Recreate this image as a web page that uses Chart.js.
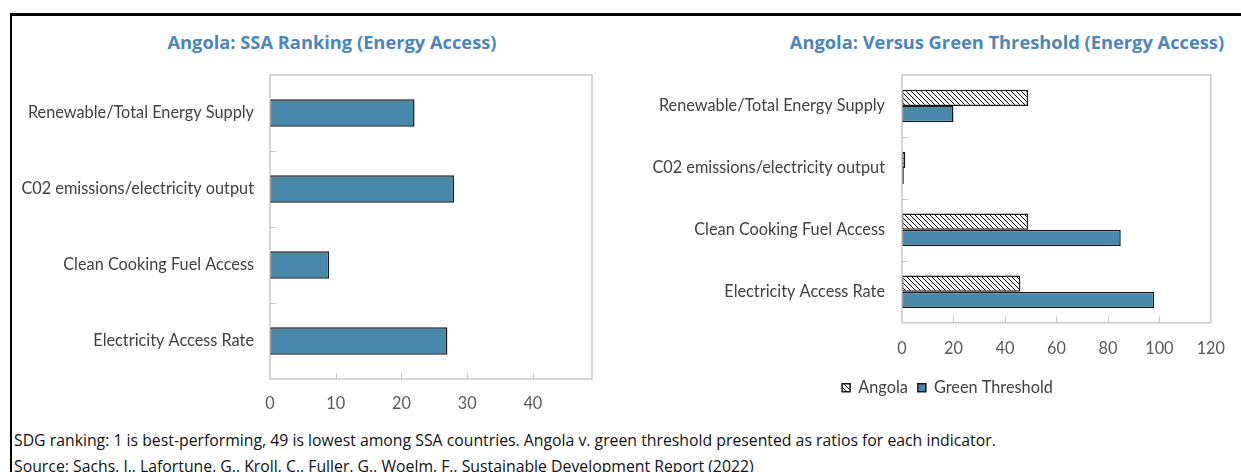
<!DOCTYPE html>
<html lang="en">

<head>
  <meta charset="utf-8" />
  <title>Angola Energy Access</title>
  <script src="https://cdn.jsdelivr.net/npm/chart.js@4.4.1/dist/chart.umd.min.js"></script>
  <style>
    body { margin: 0; width: 1241px; height: 472px; overflow: hidden; background: #fff; position: relative; }
    .frame { position: absolute; left: 10px; top: 13px; width: 1300px; height: 500px; border-left: 2px solid #000; border-top: 3px solid #000; }
    .title { position: absolute; font: bold 18.3px "Open Sans", sans-serif; line-height: 22px; color: #4a86b8; white-space: nowrap; transform: translateX(-50%); }
    .note { position: absolute; left: 14px; font: 15.8px "Open Sans", sans-serif; line-height: 20px; color: #111; white-space: nowrap; }
    canvas { position: absolute; top: 0; }
  </style>
</head>

<body>
  <div class="frame"></div>
  <div class="title" style="left:332px; top:31px;">Angola: SSA Ranking (Energy Access)</div>
  <div class="title" style="left:1007px; top:31px;">Angola: Versus Green Threshold (Energy Access)</div>

  <canvas id="rank" width="620" height="412" style="left:0px;"></canvas>
  <canvas id="green" width="621" height="406" style="left:620px;"></canvas>

  <div class="note" style="top:430px;">SDG ranking: 1 is best-performing, 49 is lowest among SSA countries. Angola v. green threshold presented as ratios for each indicator.</div>
  <div class="note" style="top:456px;">Source: Sachs, J., Lafortune, G., Kroll, C., Fuller, G., Woelm, F., Sustainable Development Report (2022)</div>

  <script>
    // indicators, top to bottom
    const indicators = [
      'Renewable/Total Energy Supply',
      'C02 emissions/electricity output',
      'Clean Cooking Fuel Access',
      'Electricity Access Rate'
    ];
    // SSA ranking (1 best .. 49 worst)
    const ssaRank = [22, 28, 9, 27];
    const rankTicks = [0, 10, 20, 30, 40];

    // ratios vs green threshold
    const angolaRatio = [49, 1.3, 49, 46];
    const greenThreshold = [20, 0.7, 85, 98];
    const greenTicks = [0, 20, 40, 60, 80, 100, 120];

    const barBlue = '#4889ab';
    const barEdge = '#1a1a1a';
    const labelFont = { family: 'Lato', size: 16.3 };

    // diagonal hatch for the Angola bars
    function makeHatch() {
      const c = document.createElement('canvas');
      c.width = 5; c.height = 5;
      const g = c.getContext('2d');
      g.fillStyle = '#fff';
      g.fillRect(0, 0, 5, 5);
      g.strokeStyle = '#000';
      g.lineWidth = 1;
      g.beginPath();
      g.moveTo(-1, -1); g.lineTo(6, 6);
      g.moveTo(-1, 4); g.lineTo(1, 6);
      g.moveTo(4, -1); g.lineTo(6, 1);
      g.stroke();
      return g.createPattern(c, 'repeat');
    }

    // grey box round the plot plus the small inside tick marks
    const frame = {
      id: 'frame',
      afterDatasetsDraw(chart) {
        const { ctx, chartArea: a, scales } = chart;
        ctx.save();
        ctx.strokeStyle = '#c8c8c8';
        ctx.lineWidth = 1.5;
        ctx.strokeRect(a.left, a.top, a.right - a.left, a.bottom - a.top);
        ctx.lineWidth = 1;
        ctx.beginPath();
        const y = scales.y;
        for (let i = 1; i < chart.data.labels.length; i++) {
          const py = Math.round((y.getPixelForTick(i - 1) + y.getPixelForTick(i)) / 2) + 0.5;
          ctx.moveTo(a.left, py); ctx.lineTo(a.left + 6, py);
        }
        const x = scales.x;
        x.ticks.forEach(t => {
          if (t.value <= x.min || t.value >= x.max) return;
          const px = Math.round(x.getPixelForValue(t.value)) + 0.5;
          ctx.moveTo(px, a.bottom); ctx.lineTo(px, a.bottom - 6);
        });
        ctx.stroke();
        ctx.restore();
      }
    };

    // the legend sits a bit right of the canvas centre in the original
    const legendShift = {
      id: 'legendShift',
      afterLayout(chart, args, opts) {
        if (chart.legend) {
          chart.legend.left += opts.dx;
          chart.legend.right += opts.dx;
        }
      }
    };

    function yAxis(width, pad) {
      return {
        grid: { display: false, drawTicks: false },
        border: { display: false },
        ticks: { color: '#404040', font: labelFont, padding: pad },
        afterFit(scale) { scale.width = width; }
      };
    }

    function xAxis(max, tickList, height, pad) {
      return {
        min: 0,
        max: max,
        grid: { display: false, drawTicks: false },
        border: { display: false },
        ticks: { color: '#595959', font: labelFont, padding: pad },
        afterBuildTicks(scale) { scale.ticks = tickList.map(v => ({ value: v })); },
        afterFit(scale) { scale.height = height; }
      };
    }

    new Chart(document.getElementById('rank'), {
      type: 'bar',
      data: {
        labels: indicators,
        datasets: [{
          label: 'SSA Ranking',
          data: ssaRank,
          backgroundColor: barBlue,
          borderColor: barEdge,
          borderWidth: 1.5,
          borderSkipped: false,
          barPercentage: 0.365,
          categoryPercentage: 1
        }]
      },
      options: {
        indexAxis: 'y',
        responsive: false,
        animation: false,
        devicePixelRatio: 1,
        layout: { padding: { left: 0, right: 28, top: 75, bottom: 0 } },
        plugins: { legend: { display: false }, tooltip: { enabled: false } },
        scales: {
          x: xAxis(49, rankTicks, 33, 15),
          y: yAxis(270, 16)
        }
      },
      plugins: [frame]
    });

    new Chart(document.getElementById('green'), {
      type: 'bar',
      data: {
        labels: indicators,
        datasets: [{
          label: 'Angola',
          data: angolaRatio,
          backgroundColor: makeHatch(),
          borderColor: barEdge,
          borderWidth: 1.5,
          borderSkipped: false,
          barPercentage: 1,
          categoryPercentage: 0.524
        }, {
          label: 'Green Threshold',
          data: greenThreshold,
          backgroundColor: barBlue,
          borderColor: barEdge,
          borderWidth: 1.5,
          borderSkipped: false,
          barPercentage: 1,
          categoryPercentage: 0.524
        }]
      },
      options: {
        indexAxis: 'y',
        responsive: false,
        animation: false,
        devicePixelRatio: 1,
        layout: { padding: { left: 0, right: 26, top: 75, bottom: 0 } },
        plugins: {
          legend: {
            position: 'bottom',
            labels: { color: '#404040', font: labelFont, boxWidth: 8, boxHeight: 8, padding: 10 }
          },
          legendShift: { dx: 30 },
          tooltip: { enabled: false }
        },
        scales: {
          x: xAxis(120, greenTicks, 47, 16),
          y: yAxis(282, 17)
        }
      },
      plugins: [frame, legendShift]
    });
  </script>
</body>

</html>
